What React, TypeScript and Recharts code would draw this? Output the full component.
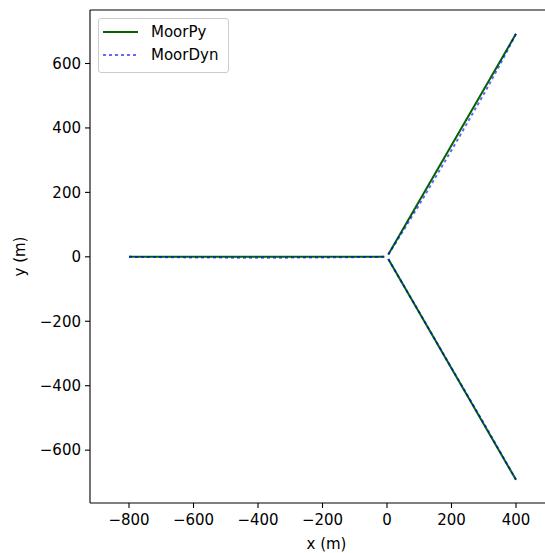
import React from 'react';
import { ComposedChart, Scatter, XAxis, YAxis } from 'recharts';

// MoorPy mooring lines (top view, m)
const moorPyLine1 = [
  { x: -800, y: 0 },
  { x: -8, y: 0 },
];
const moorPyLine2 = [
  { x: 4, y: 7 },
  { x: 400, y: 692 },
];
const moorPyLine3 = [
  { x: 4, y: -7 },
  { x: 400, y: -692 },
];

// MoorDyn mooring lines (top view, m)
const moorDynLine1 = [
  { x: -800, y: 0 },
  { x: -600, y: -2 },
  { x: -400, y: -3 },
  { x: -200, y: -2 },
  { x: -8, y: 0 },
];
const moorDynLine2 = [
  { x: 4, y: 7 },
  { x: 46, y: 74 },
  { x: 108, y: 175 },
  { x: 209, y: 346 },
  { x: 307, y: 517 },
  { x: 364, y: 622 },
  { x: 400, y: 692 },
];
const moorDynLine3 = [
  { x: 4, y: -7 },
  { x: 104, y: -179 },
  { x: 204, y: -352 },
  { x: 303, y: -521 },
  { x: 400, y: -692 },
];

const xTicks = [-800, -600, -400, -200, 0, 200, 400];
const yTicks = [-600, -400, -200, 0, 200, 400, 600];

const GREEN = '#006400';
const BLUE = '#0000ff';
const FONT = '"DejaVu Sans", sans-serif';
const FS = 15;

const fmt = (v: number) => String(v).replace('-', '\u2212');
const noDot = () => <g />;
const dynLine = { stroke: BLUE, strokeOpacity: 0.6, strokeWidth: 2, strokeDasharray: '3 3' };
const pyLine = { stroke: GREEN, strokeWidth: 2 };

const App: React.FC = () => (
  <div style={{ position: 'absolute', left: 0, top: 0, width: 545, height: 553, overflow: 'hidden' }}>
    <ComposedChart width={600} height={553} margin={{ top: 9, right: 45, left: 20, bottom: 0 }}>
      <XAxis
        dataKey="x"
        type="number"
        domain={[-921, 521]}
        allowDataOverflow
        ticks={xTicks}
        tickFormatter={fmt}
        height={50}
        tickSize={5}
        tickMargin={6}
        axisLine={{ stroke: '#000', strokeWidth: 1.1 }}
        tickLine={{ stroke: '#000', strokeWidth: 1.1 }}
        tick={{ fill: '#000', fontSize: FS, fontFamily: FONT }}
        label={{ value: 'x (m)', position: 'insideBottom', offset: 4, dx: 4, fill: '#000', fontSize: FS, fontFamily: FONT }}
      />
      <XAxis
        xAxisId="top"
        orientation="top"
        dataKey="x"
        type="number"
        domain={[-921, 521]}
        allowDataOverflow
        height={1}
        tick={false}
        tickLine={false}
        axisLine={{ stroke: '#000', strokeWidth: 1.1 }}
      />
      <YAxis
        dataKey="y"
        type="number"
        domain={[-764, 766]}
        allowDataOverflow
        ticks={yTicks}
        tickFormatter={fmt}
        width={70}
        tickSize={5}
        tickMargin={4}
        axisLine={{ stroke: '#000', strokeWidth: 1.1 }}
        tickLine={{ stroke: '#000', strokeWidth: 1.1 }}
        tick={{ fill: '#000', fontSize: FS, fontFamily: FONT }}
        label={{
          content: ({ viewBox }: any) => {
            const cy = viewBox.y + viewBox.height / 2;
            return (
              <text
                x={20}
                y={cy}
                transform={`rotate(-90, 20, ${cy})`}
                textAnchor="middle"
                dominantBaseline="central"
                fill="#000"
                fontSize={FS}
                fontFamily={FONT}
              >
                y (m)
              </text>
            );
          },
        }}
      />
      <Scatter data={moorPyLine1} line={pyLine} shape={noDot} isAnimationActive={false} />
      <Scatter data={moorPyLine2} line={pyLine} shape={noDot} isAnimationActive={false} />
      <Scatter data={moorPyLine3} line={pyLine} shape={noDot} isAnimationActive={false} />
      <Scatter data={moorDynLine1} line={dynLine} shape={noDot} isAnimationActive={false} />
      <Scatter data={moorDynLine2} line={dynLine} shape={noDot} isAnimationActive={false} />
      <Scatter data={moorDynLine3} line={dynLine} shape={noDot} isAnimationActive={false} />
    </ComposedChart>
    <div
      style={{
        position: 'absolute',
        left: 98,
        top: 18,
        width: 129,
        height: 53,
        border: '1px solid #cccccc',
        borderRadius: 3,
        background: 'rgba(255,255,255,0.8)',
      }}
    >
      <svg width={129} height={53} style={{ position: 'absolute', left: 0, top: 0 }}>
        <line x1={4} x2={39} y1={13} y2={13} stroke={GREEN} strokeWidth={2} />
        <line x1={4} x2={39} y1={36} y2={36} stroke={BLUE} strokeOpacity={0.6} strokeWidth={2} strokeDasharray="3 3" />
        <text x={52} y={13} dominantBaseline="central" fontFamily={FONT} fontSize={FS} fill="#000">MoorPy</text>
        <text x={52} y={36} dominantBaseline="central" fontFamily={FONT} fontSize={FS} fill="#000">MoorDyn</text>
      </svg>
    </div>
  </div>
);

export default App;
